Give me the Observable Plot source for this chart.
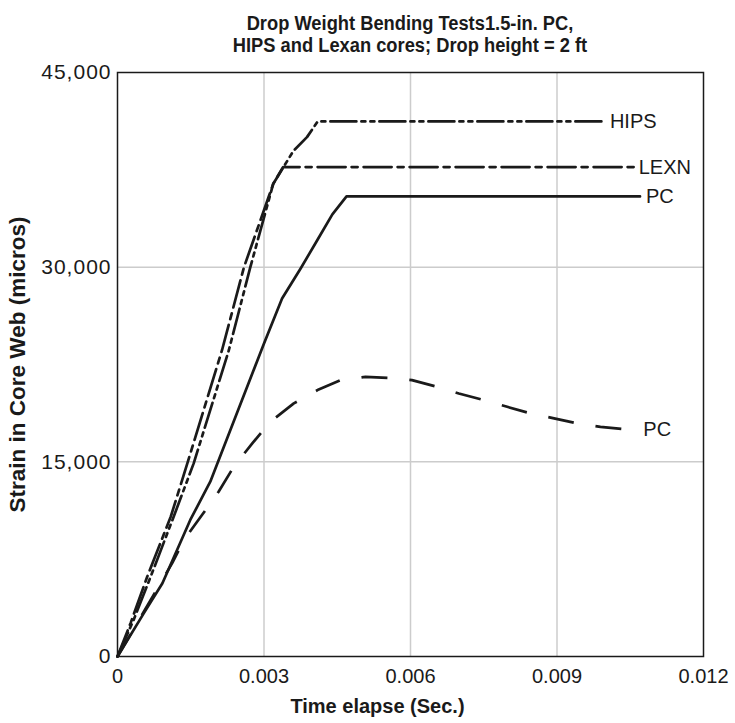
<!DOCTYPE html>
<html>
<head>
<meta charset="utf-8">
<script src="https://cdn.jsdelivr.net/npm/d3@7"></script>
<script src="https://cdn.jsdelivr.net/npm/@observablehq/plot@0.6"></script>
<style>
  body { margin: 0; background: #fff; }
  #title { margin-left: 117px; width: 586px; text-align: center; font-weight: bold; font-size: 20px; font-family: "Liberation Sans", Arial, sans-serif; line-height: 22px; padding-top: 12px; height: 43px; color: #1a1a1a; transform: scaleX(0.915); transform-origin: 293px 0; }
</style>
</head>
<body>
<div id="title">Drop Weight Bending Tests1.5-in. PC,<br>HIPS and Lexan cores; Drop height = 2 ft</div>
<div id="chart"></div>
<script>
const xTicks = [0, 0.003, 0.006, 0.009, 0.012];
const yTicks = [0, 15000, 30000, 45000];
const xTitle = "Time elapse (Sec.)";
const yTitle = "Strain in Core Web (micros)";

const hipsT = [0, 0.00033, 0.00068, 0.00115, 0.00156, 0.00228, 0.00272, 0.00319, 0.0036, 0.00388, 0.0041, 0.00996];
const hipsV = [0, 2820, 6160, 10770, 14880, 23600, 30000, 36430, 38950, 40020, 41230, 41230];

const lexnT = [0, 0.00027, 0.00061, 0.00109, 0.00143, 0.00214, 0.00259, 0.00319, 0.00339, 0.01057];
const lexnV = [0, 2590, 6160, 10770, 14880, 23600, 30000, 36430, 37710, 37710];

const pcT = [0, 0.00054, 0.00092, 0.00149, 0.00190, 0.00300, 0.00337, 0.00375, 0.00409, 0.00440, 0.00469, 0.0107];
const pcV = [0, 3340, 5650, 10520, 13470, 24120, 27580, 29900, 32070, 34070, 35450, 35450];

const pc2T = [0, 0.00050, 0.00112, 0.00136, 0.00173, 0.00207, 0.00238, 0.00276, 0.00313, 0.00361, 0.00412, 0.00457, 0.00508, 0.00556, 0.00603, 0.00655, 0.00699, 0.0075, 0.00798, 0.00846, 0.00894, 0.00942, 0.00989, 0.01042];
const pc2V = [0, 3200, 7190, 8980, 10900, 12700, 14620, 16420, 18090, 19500, 20580, 21300, 21550, 21470, 21300, 20780, 20270, 19760, 19240, 18730, 18350, 17960, 17700, 17500];

const seriesLabels = ["HIPS", "LEXN", "PC", "PC"];

const rows = (T, V) => T.map((t, i) => ({t, v: V[i]}));
const hips = rows(hipsT, hipsV), lexn = rows(lexnT, lexnV), pc = rows(pcT, pcV), pc2 = rows(pc2T, pc2V);
const last = a => a[a.length - 1];

const ink = "#1a1a1a";
const font = "'Liberation Sans', Arial, sans-serif";
const lineOpts = {x: "t", y: "v", stroke: ink, strokeWidth: 2.7, strokeLinejoin: "round"};
const endLabel = (pt, label, dx) => Plot.text([{...pt, label}], {x: "t", y: "v", text: "label", dx, textAnchor: "start", fill: ink, fontSize: 20});

const chart = Plot.plot({
  width: 735,
  height: 668,
  marginTop: 17,
  marginLeft: 117,
  marginRight: 32,
  marginBottom: 67,
  style: {fontFamily: font, color: ink, background: "#fff"},
  x: {domain: [0, 0.012]},
  y: {domain: [0, 45000]},
  marks: [
    Plot.ruleX(xTicks.slice(1, -1), {stroke: "#cccccc", strokeWidth: 1.5}),
    Plot.ruleY(yTicks.slice(1, -1), {stroke: "#cccccc", strokeWidth: 1.5}),
    Plot.frame({stroke: ink, strokeWidth: 1.5}),
    Plot.axisX({ticks: xTicks, tickFormat: d => String(d), tickSize: 0, tickPadding: 12, fontSize: 20, fill: ink, label: null}),
    Plot.axisY({ticks: yTicks, tickFormat: d3.format(","), tickSize: 0, tickPadding: 6, fontSize: 21, fill: ink, label: null}),
    Plot.text([xTitle], {frameAnchor: "bottom", dy: 56, dx: -33, fontSize: 20, fontWeight: "bold", fill: ink, textAnchor: "middle"}),
    Plot.text([yTitle], {frameAnchor: "left", rotate: -90, dx: -100, dy: 0, fontSize: 22.5, fontWeight: "bold", fill: ink, textAnchor: "middle"}),
    Plot.line(pc2, {...lineOpts, strokeDasharray: "26 22", strokeLinecap: "butt"}),
    Plot.line(hips, {...lineOpts, strokeDasharray: "26 5 4 5 4 5"}),
    Plot.line(lexn, {...lineOpts, strokeDasharray: "28 6 6 6"}),
    Plot.line(pc, {...lineOpts}),
    endLabel(last(hips), seriesLabels[0], 6),
    endLabel(last(lexn), seriesLabels[1], 5),
    endLabel(last(pc), seriesLabels[2], 6),
    endLabel(last(pc2), seriesLabels[3], 17)
  ]
});
chart.querySelectorAll('g[aria-label="y-axis tick label"] text').forEach(t => t.style.letterSpacing = "1px");
document.getElementById("chart").append(chart);
</script>
</body>
</html>
